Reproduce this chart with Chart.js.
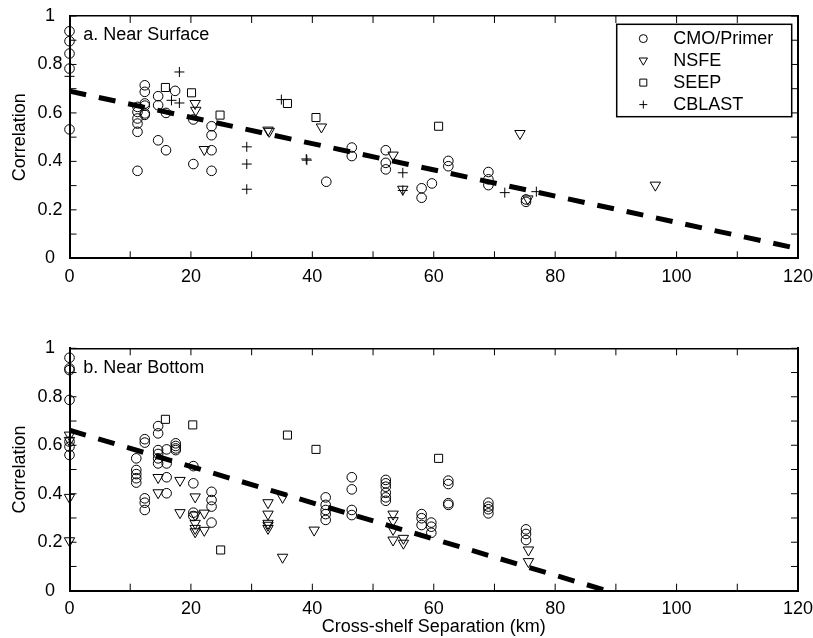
<!DOCTYPE html>
<html><head><meta charset="utf-8">
<script src="https://cdn.jsdelivr.net/npm/chart.js@4.4.1/dist/chart.umd.min.js"></script>
<style>
html,body{margin:0;padding:0;background:#fff;width:813px;height:638px;overflow:hidden}
canvas{position:absolute;left:0}
#c1{top:0}
#c2{top:330px}
</style></head>
<body>
<canvas id="c1" width="813" height="300"></canvas>
<canvas id="c2" width="813" height="308"></canvas>
<script>
// ---------- data ----------
const seriesNames = ['CMO/Primer', 'NSFE', 'SEEP', 'CBLAST'];
const panelTitles = ['a. Near Surface', 'b. Near Bottom'];
const xTickLabels = [0, 20, 40, 60, 80, 100, 120];
const yTickLabels = [0, 0.2, 0.4, 0.6, 0.8, 1];

// a. Near Surface
const surfCmoX = [0,0,0,0,0, 11.2,11.2,11.2,11.2,11.2,11.2, 12.4,12.4,12.4,12.4,12.4,12.4, 14.6,14.6,14.6, 15.9,15.9, 17.4, 20.4,20.4, 23.4,23.4,23.4,23.4, 42.3, 46.5,46.5, 52.1,52.1,52.1, 58.0,58.0,59.7, 62.4,62.4, 69.0,69.0,69.0, 75.2,75.2];
const surfCmoY = [0.937,0.896,0.845,0.783,0.532, 0.625,0.604,0.577,0.556,0.522,0.361, 0.714,0.687,0.639,0.630,0.598,0.592, 0.669,0.632,0.487, 0.600,0.446, 0.691, 0.573,0.389, 0.545,0.508,0.446,0.361, 0.316, 0.457,0.422, 0.446,0.394,0.367, 0.289,0.250,0.309, 0.402,0.380, 0.356,0.326,0.302, 0.243,0.233];
const surfNsfeX = [20.7,20.8,22.2,32.7,32.9,41.5,53.3,54.9,74.2,75.5,96.5];
const surfNsfeY = [0.639,0.611,0.449,0.529,0.524,0.542,0.426,0.285,0.515,0.245,0.302];
const surfSeepX = [15.8,20.1,24.8,35.9,40.6,60.8];
const surfSeepY = [0.705,0.683,0.591,0.639,0.581,0.545];
const surfCblastX = [0,16.8,18.1,18.1,29.2,29.2,29.2,34.9,39.0,39.1,54.9,54.9,71.7,76.9];
const surfCblastY = [0.751,0.652,0.769,0.641,0.460,0.389,0.285,0.655,0.410,0.405,0.353,0.280,0.271,0.275];
const surfTrendX = [0, 120];
const surfTrendY = [0.69, 0.04];

// b. Near Bottom
const botCmoX = [0,0,0,0,0,0,0, 11.0,11.0,11.0,11.0,11.0, 12.4,12.4,12.4,12.4,12.4, 14.6,14.6,14.6,14.6,14.6,14.6, 16.0,16.0,16.0,16.0, 17.5,17.5,17.5,17.5, 20.4,20.4,20.4,20.4, 23.4,23.4,23.4,23.4, 42.2,42.2,42.2,42.2,42.2, 46.5,46.5,46.5,46.5, 52.1,52.1,52.1,52.1,52.1,52.1, 58.0,58.0,58.0, 59.6,59.6,59.6, 62.4,62.4,62.4,62.4, 69.0,69.0,69.0,69.0, 75.2,75.2,75.2];
const botCmoY = [0.961,0.917,0.910,0.787,0.615,0.594,0.560, 0.546,0.498,0.481,0.464,0.446, 0.625,0.611,0.381,0.363,0.333, 0.679,0.649,0.580,0.564,0.546,0.525, 0.583,0.525,0.468,0.402, 0.608,0.597,0.587,0.580, 0.514,0.443,0.322,0.308, 0.408,0.374,0.347,0.281, 0.385,0.354,0.333,0.316,0.292, 0.468,0.418,0.333,0.312, 0.457,0.443,0.429,0.404,0.385,0.371, 0.316,0.299,0.271, 0.281,0.264,0.239, 0.454,0.440,0.361,0.354, 0.363,0.347,0.336,0.319, 0.253,0.234,0.209];
const botNsfeX = [0,0,0,0, 14.6,14.6, 18.2,18.2, 20.7,20.7,20.7,20.7,20.7, 22.2,22.2, 32.7,32.7,32.7,32.7,32.7, 35.1,35.1, 40.3, 53.3,53.3,53.3,53.3, 55.0,55.0, 75.6,75.6];
const botNsfeY = [0.642,0.620,0.385,0.206, 0.467,0.404, 0.455,0.322, 0.387,0.312,0.278,0.257,0.243, 0.320,0.249, 0.363,0.316,0.278,0.270,0.257, 0.385,0.138, 0.250, 0.316,0.289,0.253,0.209, 0.216,0.196, 0.168,0.120];
const botSeepX = [15.8,20.3,24.9,35.9,40.6,60.8];
const botSeepY = [0.707,0.684,0.168,0.642,0.583,0.546];
const botTrendX = [0, 88.5];
const botTrendY = [0.662, 0];

// ---------- helpers ----------
const FONT = '"Liberation Sans", Arial, Helvetica, sans-serif';
Chart.defaults.font.family = FONT;
Chart.defaults.font.size = 18;
Chart.defaults.color = '#000';

const pts = (xs, ys) => xs.map((x, i) => ({x, y: ys[i]}));
const markerStyles = {
  'CMO/Primer': {pointStyle: 'circle', pointRadius: 4.8, pointRotation: 0},
  'NSFE':       {pointStyle: 'triangle', pointRadius: 6, pointRotation: 180},
  'SEEP':       {pointStyle: 'rect', pointRadius: 5.7, pointRotation: 0},
  'CBLAST':     {pointStyle: 'cross', pointRadius: 5, pointRotation: 0}
};
function markerSet(name, xs, ys) {
  const s = markerStyles[name];
  return Object.assign({
    label: name, data: pts(xs, ys), showLine: false,
    borderColor: '#000', backgroundColor: 'rgba(0,0,0,0)',
    pointBorderWidth: 1, pointHoverRadius: s.pointRadius, clip: false
  }, s);
}
function trendSet(xs, ys) {
  return {label: 'trend', data: pts(xs, ys), showLine: true, borderColor: '#000',
    borderWidth: 5, borderDash: [17, 13], borderCapStyle: 'butt', pointRadius: 0, fill: false};
}

function drawLegendMarker(ctx, name, x, y) {
  ctx.beginPath();
  if (name === 'CMO/Primer') { ctx.arc(x, y, 4, 0, Math.PI * 2); }
  else if (name === 'NSFE') { ctx.moveTo(x - 4.2, y - 2.6); ctx.lineTo(x + 4.2, y - 2.6); ctx.lineTo(x, y + 4.6); ctx.closePath(); }
  else if (name === 'SEEP') { ctx.rect(x - 3.5, y - 3.5, 7, 7); }
  else { ctx.moveTo(x - 4, y); ctx.lineTo(x + 4, y); ctx.moveTo(x, y - 4); ctx.lineTo(x, y + 4); }
  ctx.stroke();
}

const framePlugin = {
  id: 'frameDeco',
  afterDatasetsDraw(chart, args, opts) {
    const {ctx, chartArea: a} = chart;
    const x = chart.scales.x, y = chart.scales.y;
    ctx.save();
    ctx.strokeStyle = '#000';
    ctx.lineWidth = 1;
    ctx.beginPath();
    for (let v = 0; v <= 120; v += 10) {
      const px = x.getPixelForValue(v);
      ctx.moveTo(px, a.bottom); ctx.lineTo(px, a.bottom - 7);
      ctx.moveTo(px, a.top); ctx.lineTo(px, a.top + 7);
    }
    for (let i = 0; i <= 10; i++) {
      const py = y.getPixelForValue(i / 10);
      ctx.moveTo(a.left, py); ctx.lineTo(a.left + 7, py);
      ctx.moveTo(a.right, py); ctx.lineTo(a.right - 7, py);
    }
    ctx.stroke();

    ctx.fillStyle = '#000';
    ctx.font = '18px ' + FONT;
    ctx.textBaseline = 'middle';
    ctx.textAlign = 'left';
    ctx.fillText(opts.label, a.left + 13.8, a.top + 19.5);

    if (opts.legend) {
      const w = 175, h = 92.4;
      const left = a.right - 6.3 - w, top = a.top + 8.3;
      ctx.fillStyle = '#fff';
      ctx.fillRect(left, top, w, h);
      ctx.lineWidth = 1.5;
      ctx.strokeRect(left, top, w, h);
      ctx.lineWidth = 1;
      ctx.fillStyle = '#000';
      const names = chart.data.datasets.map(d => d.label).filter(l => seriesNames.includes(l));
      names.forEach((n, i) => {
        const ry = top + 14.3 + i * 22;
        drawLegendMarker(ctx, n, left + 26.6, ry);
        ctx.fillText(n, left + 56.6, ry);
      });
    }
    ctx.restore();
  }
};

function makeOptions(cfg) {
  return {
    responsive: false, animation: false, devicePixelRatio: 1,
    layout: {padding: {left: 0, right: 15, top: cfg.top, bottom: 0}},
    plugins: {legend: {display: false}, tooltip: {enabled: false}, frameDeco: {label: cfg.label, legend: cfg.legend}},
    scales: {
      x: {type: 'linear', position: 'bottom', min: 0, max: 120,
        afterBuildTicks: s => { s.ticks = xTickLabels.map(v => ({value: v})); },
        ticks: {padding: 8, maxRotation: 0, autoSkip: false, callback: v => String(v)},
        grid: {display: false, drawTicks: false},
        border: {display: true, color: '#000', width: 2},
        title: {display: !!cfg.xTitle, text: cfg.xTitle || '', padding: {top: 0, bottom: 0}},
        afterFit: s => { s.height = cfg.xh; s.paddingLeft = 0; s.paddingRight = 0; }
      },
      y: {type: 'linear', position: 'left', min: 0, max: 1,
        afterBuildTicks: s => { s.ticks = yTickLabels.map(v => ({value: v})); },
        ticks: {padding: 7, crossAlign: 'center', autoSkip: false, callback: v => String(Math.round(v * 10) / 10)},
        grid: {display: false, drawTicks: false},
        border: {display: true, color: '#000', width: 2},
        title: {display: true, text: 'Correlation', padding: {top: 9, bottom: 0}},
        afterFit: s => { s.width = 69.5; s.paddingTop = 0; s.paddingBottom = 0; }
      },
      x2: {type: 'linear', position: 'top', min: 0, max: 120,
        ticks: {display: false}, grid: {display: false, drawTicks: false},
        border: {display: true, color: '#000', width: 1.5},
        afterFit: s => { s.height = 0; s.paddingLeft = 0; s.paddingRight = 0; }
      },
      y2: {type: 'linear', position: 'right', min: 0, max: 1,
        ticks: {display: false}, grid: {display: false, drawTicks: false},
        border: {display: true, color: '#000', width: 2},
        afterFit: s => { s.width = 0; s.paddingTop = 0; s.paddingBottom = 0; }
      }
    }
  };
}

new Chart(document.getElementById('c1'), {
  type: 'scatter',
  data: {datasets: [
    trendSet(surfTrendX, surfTrendY),
    markerSet('CMO/Primer', surfCmoX, surfCmoY),
    markerSet('NSFE', surfNsfeX, surfNsfeY),
    markerSet('SEEP', surfSeepX, surfSeepY),
    markerSet('CBLAST', surfCblastX, surfCblastY)
  ]},
  options: makeOptions({top: 16, xh: 41.7, label: panelTitles[0], legend: true}),
  plugins: [framePlugin]
});

new Chart(document.getElementById('c2'), {
  type: 'scatter',
  data: {datasets: [
    trendSet(botTrendX, botTrendY),
    markerSet('CMO/Primer', botCmoX, botCmoY),
    markerSet('NSFE', botNsfeX, botNsfeY),
    markerSet('SEEP', botSeepX, botSeepY)
  ]},
  options: makeOptions({top: 18.3, xh: 47.3, label: panelTitles[1], legend: false, xTitle: 'Cross-shelf Separation (km)'}),
  plugins: [framePlugin]
});
</script>
</body></html>
